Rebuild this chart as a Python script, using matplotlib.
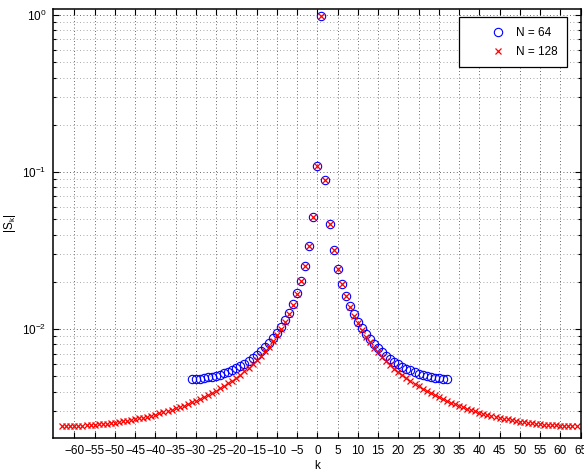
import numpy as np
import matplotlib
matplotlib.use('Agg')
import matplotlib.pyplot as plt
from matplotlib.ticker import FixedLocator, LogLocator, LogFormatterMathtext, NullFormatter

# |S_k|, N = 64 (k = -31 .. 32)
k64 = np.arange(-31, 33)
s64 = [0.004828, 0.004835, 0.004854, 0.004885, 0.004928, 0.004984, 0.005053, 0.005137,
       0.005237, 0.005354, 0.005489, 0.005646, 0.005826, 0.006033, 0.006272, 0.006546,
       0.006862, 0.007229, 0.007657, 0.008159, 0.008755, 0.009470, 0.010338, 0.011412,
       0.012769, 0.014532, 0.016907, 0.020269, 0.025376, 0.034033, 0.051845, 0.10933,
       0.98363, 0.089464, 0.046923, 0.031853, 0.024154, 0.019490, 0.016369, 0.014139,
       0.012469, 0.011177, 0.010150, 0.009316, 0.008628, 0.008052, 0.007566, 0.007151,
       0.006795, 0.006488, 0.006221, 0.005990, 0.005788, 0.005613, 0.005461, 0.005329,
       0.005216, 0.005119, 0.005038, 0.004972, 0.004918, 0.004878, 0.004849, 0.004833]

# N = 128 (k = -63 .. 64)
k128 = np.arange(-63, 65)
s128 = [0.002414, 0.002415, 0.002417, 0.002421, 0.002426, 0.002433, 0.002441, 0.002451,
        0.002463, 0.002476, 0.002490, 0.002507, 0.002525, 0.002545, 0.002566, 0.002590,
        0.002616, 0.002644, 0.002674, 0.002706, 0.002741, 0.002779, 0.002819, 0.002862,
        0.002908, 0.002958, 0.003011, 0.003068, 0.003129, 0.003195, 0.003266, 0.003341,
        0.003423, 0.003510, 0.003605, 0.003707, 0.003817, 0.003936, 0.004066, 0.004207,
        0.004361, 0.004530, 0.004715, 0.004919, 0.005145, 0.005396, 0.005676, 0.005991,
        0.006346, 0.006751, 0.007216, 0.007754, 0.008384, 0.009133, 0.010034, 0.011140,
        0.012529, 0.014324, 0.016730, 0.020122, 0.025260, 0.033947, 0.051789, 0.10930,
        0.98362, 0.089432, 0.046860, 0.031761, 0.024032, 0.019337, 0.016186, 0.013924,
        0.012224, 0.010900, 0.009839, 0.008972, 0.008250, 0.007640, 0.007117, 0.006666,
        0.006271, 0.005925, 0.005617, 0.005343, 0.005098, 0.004877, 0.004677, 0.004495,
        0.004330, 0.004178, 0.004039, 0.003912, 0.003794, 0.003686, 0.003585, 0.003492,
        0.003406, 0.003326, 0.003251, 0.003182, 0.003117, 0.003057, 0.003000, 0.002948,
        0.002899, 0.002853, 0.002811, 0.002771, 0.002734, 0.002699, 0.002667, 0.002638,
        0.002610, 0.002585, 0.002562, 0.002540, 0.002521, 0.002503, 0.002487, 0.002473,
        0.002460, 0.002449, 0.002440, 0.002432, 0.002425, 0.002420, 0.002417, 0.002415]

labels = ['N = 64', 'N = 128']
xticks = np.arange(-60, 70, 5)

plt.rcParams['font.family'] = ['Liberation Sans', 'DejaVu Sans']
plt.rcParams['mathtext.default'] = 'regular'
plt.rcParams['font.size'] = 8.5

fig = plt.figure(figsize=(5.84, 4.74), dpi=100)
ax = fig.add_axes([53.3/584, 1-438/474, (581-53.3)/584, (438-9)/474])

ax.plot(k64, s64, 'o', color='blue', mfc='none', ms=6, mew=0.8, label=labels[0])
ax.plot(k128, s128, 'x', color='red', ms=5, mew=0.9, label=labels[1])

ax.set_yscale('log')
ax.set_xlim(-65.2, 65.1)
ax.set_ylim(2.03e-3, 1.092)
ax.xaxis.set_major_locator(FixedLocator(xticks))
ax.yaxis.set_major_locator(LogLocator(base=10))
ax.yaxis.set_major_formatter(LogFormatterMathtext())
ax.yaxis.set_minor_locator(LogLocator(base=10, subs=np.arange(2, 10)))
ax.yaxis.set_minor_formatter(NullFormatter())

ax.grid(True, which='major', linestyle=(0, (1, 3)), color='0.2', linewidth=0.6)
ax.grid(True, which='minor', axis='y', linestyle=(0, (1, 3)), color='0.55', linewidth=0.6)
ax.set_axisbelow(True)

ax.tick_params(which='both', direction='in', top=True, right=True, width=0.8)
ax.tick_params(which='major', length=4, pad=5)
ax.tick_params(which='minor', length=2)
for sp in ax.spines.values():
    sp.set_linewidth(1.1)

ax.set_xlabel('k', labelpad=2)
ax.set_ylabel('|S$_k$|')
ax.yaxis.set_label_coords(-0.067, 0.5)

leg = ax.legend(loc='upper right', bbox_to_anchor=(566.7/584, 1-17.3/474),
                bbox_transform=fig.transFigure, borderaxespad=0, fancybox=False,
                edgecolor='black', framealpha=1, borderpad=0.8, handlelength=5.0,
                handletextpad=-1.0, labelspacing=0.6, numpoints=1)
leg.get_frame().set_linewidth(0.9)

plt.savefig('out.png', dpi=100)
